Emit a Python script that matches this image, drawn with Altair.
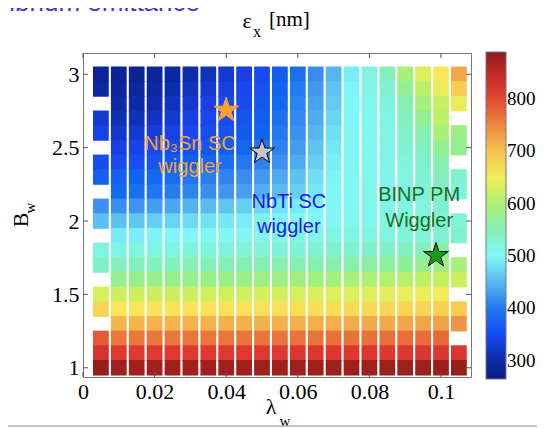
import altair as alt
import pandas as pd

# ---------------- data ----------------
lam_values = [0.005, 0.010, 0.015, 0.020, 0.025, 0.030, 0.035, 0.040, 0.045, 0.050,
              0.055, 0.060, 0.065, 0.070, 0.075, 0.080, 0.085, 0.090, 0.095, 0.100, 0.105]
B_values = [3.0, 2.9, 2.8, 2.7, 2.6, 2.5, 2.4, 2.3, 2.2, 2.1, 2.0,
            1.9, 1.8, 1.7, 1.6, 1.5, 1.4, 1.3, 1.2, 1.1, 1.0]

# emittance eps_x [nm], one list per B row (top to bottom), None = no cell
eps_B30 = [285, 280, 281, 288, 295, 305, 315, 325, 335, 350, 370, 392, 418, 448, 490, 518, 545, 595, 635, 660, 725]
eps_B29 = [295, 288, 289, 296, 305, 315, 325, 335, 345, 358, 378, 402, 428, 458, 497, 512, 530, 578, 610, 645, 690]
eps_B28 = [None, 298, 300, 306, 315, 325, 335, 345, 353, 366, 385, 408, 435, 465, 500, 508, 522, 555, 595, 620, 645]
eps_B27 = [325, 310, 312, 318, 326, 335, 345, 353, 361, 373, 392, 415, 442, 472, 501, 506, 518, 545, 578, 610, None]
eps_B26 = [338, 322, 325, 331, 338, 346, 353, 361, 368, 381, 400, 422, 450, 480, 502, 505, 515, 535, 555, 595, 585]
eps_B25 = [None, 336, 340, 346, 352, 358, 365, 373, 383, 394, 408, 430, 458, 486, 502, 505, 513, 528, 545, 578, 578]
eps_B24 = [352, 350, 355, 362, 368, 375, 383, 391, 399, 409, 422, 442, 467, 491, 503, 505, 512, 522, 535, 555, None]
eps_B23 = [375, 377, 380, 385, 390, 397, 404, 411, 419, 428, 441, 457, 479, 496, 503, 506, 512, 520, 528, 545, 530]
eps_B22 = [None, 385, 391, 396, 403, 411, 419, 426, 434, 443, 454, 467, 486, 498, 504, 507, 512, 518, 522, 535, 522]
eps_B21 = [422, 420, 424, 431, 438, 446, 452, 459, 466, 473, 483, 489, 496, 500, 504, 508, 512, 516, 518, 530, None]
eps_B20 = [455, 456, 461, 466, 471, 476, 481, 486, 490, 494, 497, 500, 502, 504, 506, 508, 512, 515, 517, 524, 525]
eps_B19 = [None, 489, 492, 495, 498, 500, 502, 503, 505, 507, 509, 511, 513, 515, 517, 518, 520, 522, 525, 530, 532]
eps_B18 = [518, 517, 518, 519, 520, 521, 522, 523, 524, 525, 526, 527, 529, 531, 533, 536, 539, 544, 550, 558, None]
eps_B17 = [538, 545, 546, 547, 548, 549, 550, 551, 552, 553, 554, 555, 557, 559, 561, 564, 568, 573, 580, 588, 595]
eps_B16 = [None, 580, 580, 581, 581, 582, 583, 584, 585, 586, 587, 588, 590, 592, 595, 598, 602, 607, 612, 618, 622]
eps_B15 = [630, 622, 622, 623, 623, 624, 625, 626, 627, 628, 629, 630, 632, 634, 636, 638, 641, 644, 647, 650, None]
eps_B14 = [680, 664, 664, 665, 665, 666, 666, 667, 667, 668, 669, 670, 671, 672, 674, 676, 678, 680, 683, 686, 692]
eps_B13 = [None, 714, 714, 715, 715, 716, 716, 717, 717, 718, 718, 719, 720, 721, 722, 723, 725, 727, 729, 732, 742]
eps_B12 = [785, 762, 762, 762, 762, 763, 763, 763, 764, 764, 764, 765, 765, 766, 766, 767, 768, 769, 770, 772, None]
eps_B11 = [825, 812, 812, 812, 812, 812, 812, 813, 813, 813, 813, 814, 814, 814, 814, 815, 815, 815, 816, 816, 818]
eps_B10 = [882, 876, 876, 876, 876, 876, 876, 876, 876, 877, 877, 877, 877, 877, 877, 878, 878, 878, 878, 879, 880]

eps_rows = [eps_B30, eps_B29, eps_B28, eps_B27, eps_B26, eps_B25, eps_B24, eps_B23, eps_B22, eps_B21,
            eps_B20, eps_B19, eps_B18, eps_B17, eps_B16, eps_B15, eps_B14, eps_B13, eps_B12, eps_B11, eps_B10]

x_ticks = [0, 0.02, 0.04, 0.06, 0.08, 0.1]
y_ticks = [1, 1.5, 2, 2.5, 3]
cbar_ticks = [300, 400, 500, 600, 700, 800]

# wiggler working points (stars)
star_lam = [0.040, 0.050, 0.0986]
star_B = [2.755, 2.47, 1.765]
star_fill = ["#f8a030", "#c8c8c8", "#12a012"]
star_edge = ["#f8a030", "#000000", "#000000"]

# annotations
ann_text = ["Nb\u2083Sn SC", "wiggler", "NbTi SC", "wiggler", "BINP PM", "Wiggler"]
ann_lam = [0.0299, 0.0299, 0.0575, 0.0575, 0.0939, 0.0939]
ann_B = [2.525, 2.368, 2.133, 1.962, 2.177, 2.0]
ann_col = ["#f7a033", "#f7a033", "#1a1aea", "#1a1aea", "#1b6e1b", "#1b6e1b"]

# colormap (pastel jet) stops
cmap_stops = [265, 304, 343, 382, 421, 460, 499, 538, 577, 617, 656, 695, 734, 773, 812, 851, 890]
cmap_colors = ["#0c1c8a", "#0c2ca8", "#1a44f0", "#1066f0", "#3c8ef0", "#60c6f0", "#80f8f8",
               "#80f0c8", "#90f090", "#c4f060", "#f8ec5a", "#f8c850", "#f0a048", "#e86838",
               "#e03830", "#c02828", "#8c1c18"]

# ---------------- build ----------------
records = []
for b, row in zip(B_values, eps_rows):
    for l, v in zip(lam_values, row):
        if v is not None:
            records.append({"lam": l, "B": b, "eps": v})
df = pd.DataFrame(records)

W, H = 388, 324
xs = alt.Scale(domain=[0, 0.10838], nice=False, zero=False)
ys = alt.Scale(domain=[0.937, 3.145], nice=False, zero=False)
cs = alt.Scale(domain=cmap_stops, range=cmap_colors, interpolate="rgb")

axis_common = dict(labelFont="Liberation Serif", labelFontSize=22, labelColor="black",
                   ticks=False, tickSize=0, domain=False, grid=False, labelPadding=4,
                   labelFlush=False, labelOverlap=False, format="~g", title=None)
ax_x = alt.Axis(values=x_ticks, **axis_common)
ax_y = alt.Axis(values=y_ticks, **axis_common)


def X(field):
    return alt.X(field, scale=xs, axis=ax_x, title=None)


def Y(field):
    return alt.Y(field, scale=ys, axis=ax_y, title=None)


cells = alt.Chart(df).transform_calculate(
    x0="datum.lam - 0.0022", x1="datum.lam + 0.0022",
    y0="datum.B - 0.053", y1="datum.B + 0.053",
).mark_rect().encode(
    x=X("x0:Q"), x2="x1:Q",
    y=Y("y0:Q"), y2="y1:Q",
    color=alt.Color("eps:Q", scale=cs, legend=alt.Legend(
        orient="none", legendX=403, legendY=-1, direction="vertical",
        gradientLength=327, gradientThickness=20, title=None, values=cbar_ticks,
        labelFont="Liberation Serif", labelFontSize=19, labelColor="black",
        labelOffset=1, gradientStrokeColor="#777", gradientStrokeWidth=1,
        padding=0, labelOverlap=False)),
)

xt_df = pd.DataFrame({"xt": x_ticks})
yt_df = pd.DataFrame({"yt": y_ticks})
tick_col = "#555555"
ticks_bottom = alt.Chart(xt_df).mark_rule(color=tick_col).encode(
    x=X("xt:Q"), y=alt.value(H), y2=alt.value(H - 5))
ticks_top = alt.Chart(xt_df).mark_rule(color=tick_col).encode(
    x=X("xt:Q"), y=alt.value(0), y2=alt.value(5))
ticks_left = alt.Chart(yt_df).mark_rule(color=tick_col).encode(
    y=Y("yt:Q"), x=alt.value(0), x2=alt.value(5))
ticks_right = alt.Chart(yt_df).mark_rule(color=tick_col).encode(
    y=Y("yt:Q"), x=alt.value(W), x2=alt.value(W - 5))

ann_df = pd.DataFrame({"text": ann_text, "lam": ann_lam, "B": ann_B, "col": ann_col})
ann = alt.Chart(ann_df).mark_text(font="Liberation Sans", fontSize=20, align="center",
                                  baseline="middle").encode(
    x=X("lam:Q"), y=Y("B:Q"),
    text="text:N", fill=alt.Fill("col:N", scale=None))

STAR = ("M0,-1L0.2245,-0.309L0.9511,-0.309L0.3633,0.118L0.5878,0.809L0,0.382"
        "L-0.5878,0.809L-0.3633,0.118L-0.9511,-0.309L-0.2245,-0.309Z")
star_df = pd.DataFrame({"lam": star_lam, "B": star_B, "f": star_fill, "e": star_edge})
stars = alt.Chart(star_df).mark_point(shape=STAR, size=680, filled=True, opacity=1,
                                      strokeWidth=1).encode(
    x=X("lam:Q"), y=Y("B:Q"),
    fill=alt.Fill("f:N", scale=None), stroke=alt.Stroke("e:N", scale=None))

one = pd.DataFrame({"k": [0]})


def label(text, x, y, size, angle=0, font="Liberation Serif", color="black",
          align="center", baseline="middle"):
    kw = dict(text=text, font=font, fontSize=size, color=color, align=align, baseline=baseline)
    if angle:
        kw["angle"] = angle
    return alt.Chart(one).mark_text(**kw).encode(x=alt.value(x), y=alt.value(y))


decor = [
    label("\u03b5", 164, -32, 22),
    label("x", 174, -21, 16),
    label("[nm]", 186, -33, 21, align="left"),
    label("B", -62, 167, 22, angle=270),
    label("w", -53, 155, 15, angle=270),
    label("\u03bb", 188, 354, 22),
    label("w", 202, 368, 15),
    label("Equilibrium emittance", 117, -42, 26, font="Liberation Sans", color="#3a3ad6",
          align="right", baseline="alphabetic"),
]

edge_bottom = alt.Chart(one).mark_rule(color="#888888", strokeWidth=1).encode(
    x=alt.value(-83), x2=alt.value(454), y=alt.value(373))

chart = alt.layer(
    cells, ticks_bottom, ticks_top, ticks_left, ticks_right, ann, stars, *decor,
    edge_bottom
).properties(
    width=W, height=H,
    autosize=alt.AutoSizeParams(type="none"),
    padding={"left": 75, "top": 45, "right": 66, "bottom": 51},
    background="white",
).configure_view(stroke="#777777", strokeWidth=1)

chart.save("out.html", embed_options={"renderer": "svg", "actions": False})
